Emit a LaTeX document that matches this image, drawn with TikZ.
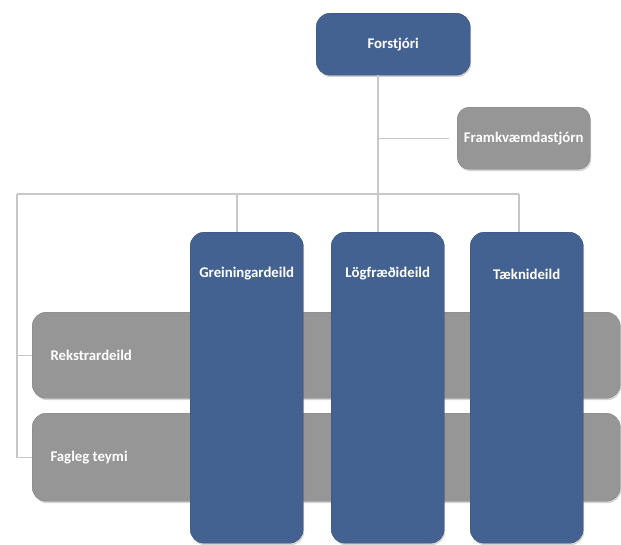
\documentclass[tikz,border=0pt]{standalone}
\usepackage{fontspec}
\setmainfont{Carlito}
\usetikzlibrary{shadows}
\definecolor{boxblue}{RGB}{68,98,145}
\definecolor{boxgray}{RGB}{150,150,150}
\definecolor{linegray}{RGB}{200,200,200}
\tikzset{
  conn/.style={draw=linegray, line width=1.2pt},
  bluebox/.style={fill=boxblue, draw=boxblue!80!black, line width=0.4pt, rounded corners=14pt, inner sep=0pt,
     drop shadow={opacity=0.35, shadow xshift=1pt, shadow yshift=-2pt}},
  graybox/.style={fill=boxgray, draw=boxgray!85!black, line width=0.4pt, rounded corners=14pt, inner sep=0pt,
     drop shadow={opacity=0.35, shadow xshift=1pt, shadow yshift=-2pt}},
  lbl/.style={text=white, font=\fontsize{14.8}{17}\selectfont\bfseries},
}
\begin{document}
\begin{tikzpicture}[x=1pt,y=-1pt]
\useasboundingbox (0,0) rectangle (621,544);
% junction coordinates
\coordinate (hub) at (378,194);
\coordinate (lt) at (17,194);
\coordinate (gx) at (237,0);
\coordinate (tx) at (519,0);
% gray bars
\node[graybox, minimum width=588pt, minimum height=86pt, anchor=north west,
  label={[lbl, anchor=west, xshift=15pt]west:Rekstrardeild}] (rek) at (32,312) {};
\node[graybox, minimum width=588pt, minimum height=88pt, anchor=north west,
  label={[lbl, anchor=west, xshift=15pt]west:Fagleg teymi}] (fag) at (32,413) {};
% top boxes
\node[bluebox, minimum width=154pt, minimum height=62pt, anchor=north west, lbl] (for) at (316,13) {Forstjóri};
\node[graybox, minimum width=133pt, minimum height=62pt, anchor=north west, lbl, rounded corners=12pt] (fk) at (457,107) {Framkvæmdastjórn};
% columns
\node[bluebox, minimum width=113pt, minimum height=311pt, anchor=north west,
  label={[lbl, anchor=center, yshift=-42pt]north:Greiningardeild}] (gre) at (190,232) {};
\node[bluebox, minimum width=113pt, minimum height=311pt, anchor=north west,
  label={[lbl, anchor=center, yshift=-42pt]north:Lögfræðideild}] (log) at (331,232) {};
\node[bluebox, minimum width=113pt, minimum height=311pt, anchor=north west,
  label={[lbl, anchor=center, yshift=-42pt]north:Tæknideild}] (tae) at (470,232) {};
% connectors
\draw[conn] (for.south -| hub) -- (hub);
\draw[conn] (hub |- fk.west) -- ([xshift=-8pt]fk.west);
\draw[conn] (lt) -- (hub -| tx);
\draw[conn] (hub -| gx) -- (gre.north -| gx);
\draw[conn] (hub) -- (log.north -| hub);
\draw[conn] (hub -| tx) -- (tae.north -| tx);
\draw[conn] (lt) |- (rek.west);
\draw[conn] (lt) |- (fag.west);
\end{tikzpicture}
\end{document}
